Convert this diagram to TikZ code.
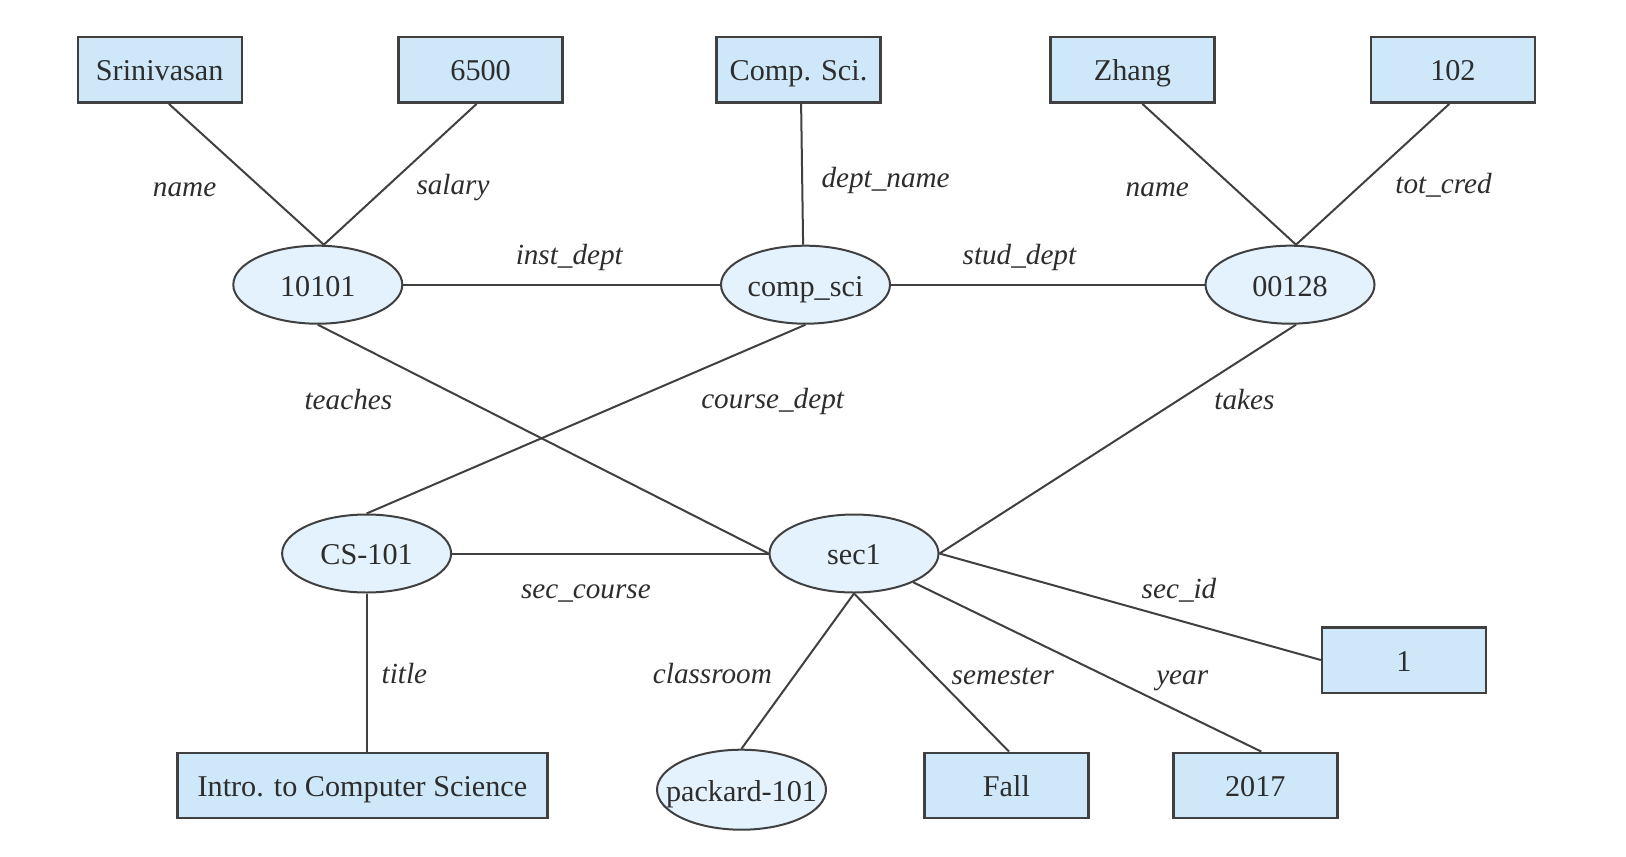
\documentclass[tikz,border=0pt]{standalone}
\usepackage{fontspec}
\setmainfont{Liberation Serif}
\usetikzlibrary{shapes.geometric}
\definecolor{boxfill}{RGB}{206,232,249}
\definecolor{ellfill}{RGB}{227,242,252}
\definecolor{edgecol}{RGB}{64,64,64}
\definecolor{txt}{RGB}{45,45,45}
\begin{document}
\begin{tikzpicture}[x=0.5pt,y=-0.5pt,
  every node/.style={font=\fontsize{15.1}{18}\selectfont, text=txt},
  valbox/.style={draw=edgecol, line width=1.2pt, fill=boxfill, minimum width=82pt, minimum height=32.7pt, inner sep=0pt, text height=14pt, text depth=3pt},
  ent/.style={ellipse, draw=edgecol, line width=1pt, fill=ellfill, minimum width=84.5pt, minimum height=39pt, inner sep=0pt, text height=14.3pt, text depth=3pt},
  lab/.style={font=\itshape\fontsize{14.6}{18}\selectfont, inner sep=0pt},
  conn/.style={draw=edgecol, line width=1pt}]
\useasboundingbox (0,0) rectangle (1626,856);
% value boxes, top row
\node[valbox] (srini) at (159.7,70) {Srinivasan};
\node[valbox] (sal) at (480.6,70) {6500};
\node[valbox] (dname) at (798.5,70) {Comp. Sci.};
\node[valbox] (zhang) at (1132.4,70) {Zhang};
\node[valbox] (cred) at (1452.9,70) {102};
% entities
\node[ent] (inst) at (317.8,284.7) {10101};
\node[ent] (dept) at (805.5,284.7) {comp\_sci};
\node[ent] (stud) at (1290,284.7) {00128};
\node[ent] (course) at (366.6,553.5) {CS-101};
\node[ent] (sec) at (854,553.5) {sec1};
\node[ent, minimum height=40pt] (room) at (741.5,789.7) {\makebox[0pt]{packard-101}};
% value boxes, lower
\node[valbox] (one) at (1404,660) {1};
\node[valbox, minimum width=185pt] (intro) at (362.4,785.5) {Intro. to Computer Science};
\node[valbox] (fall) at (1006.4,785.5) {Fall};
\node[valbox] (yr) at (1255.3,785.5) {2017};
% connectors
\draw[conn] ([xshift=4.6pt]srini.south) -- ([xshift=3pt]inst.north);
\draw[conn] ([xshift=-2pt]sal.south) -- ([xshift=3pt]inst.north);
\draw[conn] ([xshift=1.3pt]dname.south) -- ([xshift=-1.2pt]dept.north);
\draw[conn] ([xshift=5pt]zhang.south) -- ([xshift=3pt]stud.north);
\draw[conn] ([xshift=-1.8pt]cred.south) -- ([xshift=3pt]stud.north);
\draw[conn] (inst.east) -- (dept.west);
\draw[conn] (dept.east) -- (stud.west);
\draw[conn] (inst.south) -- (sec.west);
\draw[conn] (dept.south) -- (course.north);
\draw[conn] ([xshift=3pt]stud.south) -- (sec.east);
\draw[conn] (course.east) -- (sec.west);
\draw[conn] (course.south) -- (course.south |- intro.north);
\draw[conn] (sec.east) -- (one.west);
\draw[conn] (sec.south) -- (room.north);
\draw[conn] (sec.south) -- ([xshift=1.3pt]fall.north);
\draw[conn] (sec) -- ([xshift=3pt]yr.north);
% labels
\node[lab] (l1) at (184.6,189.8) {name};
\node[lab] (l2) at (453,187.7) {salary};
\node[lab] (l3) at (885.6,180.4) {dept\_name};
\node[lab] (l4) at (1157.3,189.8) {name};
\node[lab] (l5) at (1443.5,185.7) {tot\_cred};
\node[lab] (l6) at (569.3,257.1) {inst\_dept};
\node[lab] (l7) at (1019.4,257.1) {stud\_dept};
\node[lab] (l8) at (348.4,399.2) {teaches};
\node[lab] (l9) at (772.6,401.3) {course\_dept};
\node[lab] (l10) at (1244.4,399.2) {takes};
\node[lab] (l11) at (585.9,593.2) {sec\_course};
\node[lab] (l12) at (1179,590.1) {sec\_id};
\node[lab] (l13) at (404.4,674) {title};
\node[lab] (l14) at (712.4,674) {classroom};
\node[lab] (l15) at (1002.8,676.1) {semester};
\node[lab] (l16) at (1182.2,681.2) {year};
\end{tikzpicture}
\end{document}
